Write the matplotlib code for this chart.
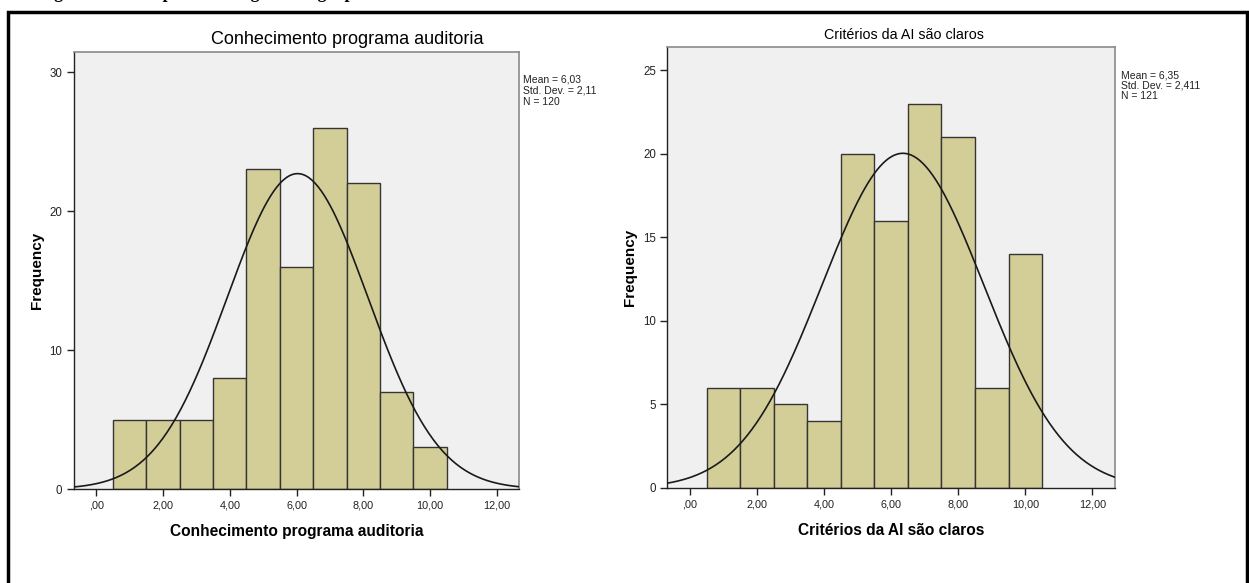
import numpy as np
import matplotlib.pyplot as plt
from matplotlib.patches import Rectangle

plt.rcParams['font.family'] = ['Liberation Sans', 'DejaVu Sans']

# bin centres (score 1..10), counts per bin
bins = [1, 2, 3, 4, 5, 6, 7, 8, 9, 10]
conhecimento = [5, 5, 5, 8, 23, 16, 26, 22, 7, 3]
criterios = [6, 6, 5, 4, 20, 16, 23, 21, 6, 14]

# summary stats shown next to each plot
stats_conh = {'mean': 6.03, 'sd': 2.11, 'n': 120, 'sd_txt': '2,11'}
stats_crit = {'mean': 6.35, 'sd': 2.411, 'n': 121, 'sd_txt': '2,411'}

xticks = [0, 2, 4, 6, 8, 10, 12]
xtick_labels = [',00', '2,00', '4,00', '6,00', '8,00', '10,00', '12,00']

W, H = 1249, 583
fig = plt.figure(figsize=(W / 100, H / 100), dpi=100)
fig.patch.set_facecolor('white')


def px_axes(x0, y0, x1, y1):
    return fig.add_axes([x0 / W, 1 - y1 / H, (x1 - x0) / W, (y1 - y0) / H])


def histo(ax, counts, st, ymax, yticks, xlabel):
    ax.set_facecolor('#f0f0f0')
    ax.bar(bins, counts, width=1.0, color='#d3ce97', edgecolor='#353535',
           linewidth=1.0, zorder=2)
    xs = np.linspace(-0.7, 12.7, 300)
    ys = st['n'] / (st['sd'] * np.sqrt(2 * np.pi)) * np.exp(-0.5 * ((xs - st['mean']) / st['sd']) ** 2)
    ax.plot(xs, ys, color='#1a1a1a', linewidth=1.2, zorder=3)
    ax.set_xlim(-0.68, 12.66)
    ax.set_ylim(0, ymax)
    ax.set_xticks(xticks)
    ax.set_xticklabels(xtick_labels)
    ax.set_yticks(yticks)
    ax.tick_params(direction='out', length=5, width=1, colors='#222222', pad=3)
    ax.tick_params(axis='x', labelsize=7.8)
    ax.tick_params(axis='y', labelsize=8.3)
    for s in ['top', 'right']:
        ax.spines[s].set_color('#8a8a8a')
        ax.spines[s].set_linewidth(1.2)
    for s in ['left', 'bottom']:
        ax.spines[s].set_color('#222222')
        ax.spines[s].set_linewidth(1.0)
    ax.set_xlabel(xlabel, fontsize=11.2, fontweight='bold', labelpad=10)
    ax.set_ylabel('Frequency', fontsize=11, fontweight='bold', labelpad=4)


ax1 = px_axes(73.5, 52, 519, 489)
histo(ax1, conhecimento, stats_conh, 31.44, [0, 10, 20, 30],
      'Conhecimento programa auditoria')
ax2 = px_axes(667, 47, 1114.6, 488)
histo(ax2, criterios, stats_crit, 26.38, [0, 5, 10, 15, 20, 25],
      'Critérios da AI são claros')

# panel titles
fig.text(347 / W, 1 - 39 / H, 'Conhecimento programa auditoria', fontsize=13,
         ha='center', va='center')
fig.text(904 / W, 1 - 35 / H, 'Critérios da AI são claros', fontsize=10.3,
         ha='center', va='center')

# stats boxes
for x, y, st, ls in [(523, 75, stats_conh, 1.12), (1121, 71, stats_crit, 1.0)]:
    txt = 'Mean = {}\nStd. Dev. = {}\nN = {}'.format(
        f"{st['mean']:.2f}".replace('.', ','), st['sd_txt'], st['n'])
    fig.text(x / W, 1 - y / H, txt, fontsize=7.5, ha='left', va='top',
             linespacing=ls, color='#222222')

# outer frame of the figure, running past the bottom edge
fig.patches.append(Rectangle((8 / W, -0.1), (1247 - 8) / W, 1.1 - 12 / H,
                             transform=fig.transFigure, fill=False,
                             edgecolor='black', linewidth=2.5, clip_on=False))

# caption line above the frame, only its lowest strokes fall inside the page
fig.text(38 / W, 1 + 2 / H, 'Figura 2 - Exemplo de histograma e grupo',
         fontsize=13, fontweight='bold', family='Liberation Serif',
         ha='left', va='baseline')

fig.savefig('out.png', dpi=100)
